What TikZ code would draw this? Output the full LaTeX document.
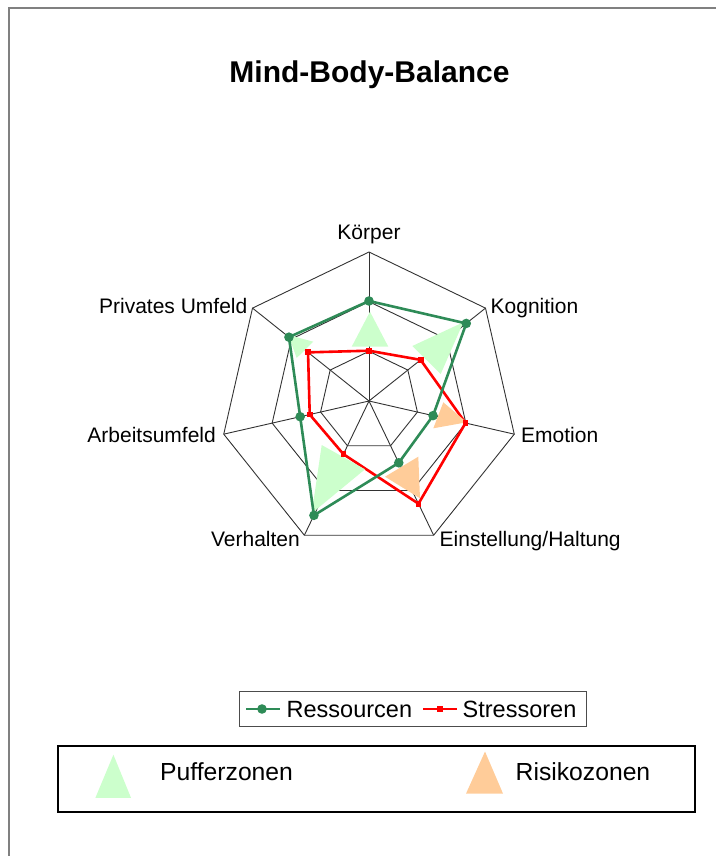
\documentclass[tikz,border=0pt]{standalone}
\usepackage{fontspec}
\setmainfont{Liberation Sans}
\usetikzlibrary{calc}
\definecolor{resgreen}{RGB}{46,139,87}
\definecolor{pufgreen}{RGB}{204,255,204}
\definecolor{risorange}{RGB}{255,204,153}
\definecolor{gridcol}{RGB}{50,50,50}
\definecolor{framecol}{RGB}{128,128,128}
\begin{document}
\begin{tikzpicture}[x=1pt,y=-1pt,
  gridline/.style={draw=gridcol,line width=0.9pt},
  resline/.style={draw=resgreen,line width=2.6pt,line join=round},
  strline/.style={draw=red,line width=2.6pt,line join=round},
  resmark/.style={fill=resgreen,draw=none},
  strmark/.style={fill=red,draw=none},
  puffer/.style={fill=pufgreen,draw=none},
  risiko/.style={fill=risorange,draw=none},
  axislabel/.style={inner sep=0pt,font=\fontsize{21}{25}\selectfont},
  legtext/.style={inner sep=0pt,font=\fontsize{23.5}{28}\selectfont},
  legtextb/.style={inner sep=0pt,font=\fontsize{24.7}{29}\selectfont}]
\useasboundingbox (0,0) rectangle (716,856);
% outer frame
\draw[framecol,line width=2pt] (9,856) -- (9,8) -- (716,8);
% title
\node[inner sep=0pt,font=\bfseries\fontsize{30}{36}\selectfont] (title) at (369.5,75) {Mind-Body-Balance};
% grid
\coordinate (C) at (369,401);
\foreach \r in {49.667,99.333,149}{
  \draw[gridline] ($(C)+(-90:\r)$)
    \foreach \a in {-38.571,12.857,64.286,115.714,167.143,218.571}{ -- ($(C)+(\a:\r)$) } -- cycle;
}
\foreach \i/\a in {1/-90,2/-38.571,3/12.857,4/64.286,5/115.714,6/167.143,7/218.571}{
  \coordinate (v\i) at ($(C)+(\a:149)$);
  \draw[gridline] (C) -- (v\i);
}
% data coordinates
\foreach \i/\a/\r in {1/-90/100,2/-38.571/124.4,3/12.857/65.7,4/64.286/68.6,5/115.714/126.9,6/167.143/70.6,7/218.571/102.4}{
  \coordinate (g\i) at ($(C)+(\a:\r)$);
}
\foreach \i/\a/\r in {1/-90/50.3,2/-38.571/66,3/12.857/99,4/64.286/114,5/115.714/59,6/167.143/60.8,7/218.571/78}{
  \coordinate (s\i) at ($(C)+(\a:\r)$);
}
% Stressoren line
\draw[strline] (s1) -- (s2) -- (s3) -- (s4) -- (s5) -- (s6) -- (s7) -- cycle;
% zones
\fill[puffer] (370,311.7) -- (351.7,346.7) -- (388.3,346.7) -- cycle;
\fill[puffer] (412.3,346) -- (463.3,322.3) -- (440.7,374) -- cycle;
\fill[puffer] (288.3,335) -- (313.3,341.7) -- (296.7,358) -- cycle;
\fill[puffer] (321.7,445) -- (365,469.3) -- (311.7,513.3) -- cycle;
\fill[risiko] (443.3,402.3) -- (466.7,422.3) -- (433.3,428.3) -- cycle;
\fill[risiko] (418.3,456.7) -- (385,476.7) -- (420,498.3) -- cycle;
% Ressourcen line
\draw[resline] (g1) -- (g2) -- (g3) -- (g4) -- (g5) -- (g6) -- (g7) -- cycle;
\foreach \i in {1,...,7}{
  \fill[resmark] (g\i) circle (4.8);
  \fill[strmark] ($(s\i)+(-2.9,-2.9)$) rectangle ($(s\i)+(2.9,2.9)$);
}
% axis labels
\node[axislabel,anchor=base] (lk) at (369,239) {Körper};
\node[axislabel,anchor=base west] (lkog) at (490.5,313.3) {Kognition};
\node[axislabel,anchor=base west] (lemo) at (521,442.7) {Emotion};
\node[axislabel,anchor=base west] (lein) at (439.5,546.7) {Einstellung/Haltung};
\node[axislabel,anchor=base east] (lver) at (300,546.7) {Verhalten};
\node[axislabel,anchor=base east] (larb) at (216,442.7) {Arbeitsumfeld};
\node[axislabel,anchor=base east] (lpri) at (247.5,313.3) {Privates Umfeld};
% legend 1
\draw[draw=black!70,line width=1pt] (239.3,691.7) rectangle (586,726);
\coordinate (la1) at (246,709);
\coordinate (la2) at (280,709);
\draw[resline,line width=2.2pt] (la1) -- (la2);
\fill[resmark] (262,709) circle (4.8);
\node[legtext,anchor=base west] (lres) at (286.5,717.3) {Ressourcen};
\coordinate (lb1) at (423,709);
\coordinate (lb2) at (457,709);
\draw[strline,line width=2.2pt] (lb1) -- (lb2);
\fill[strmark] (437.1,706.1) rectangle (442.9,711.9);
\node[legtext,anchor=base west] (lstr) at (462.5,717.3) {Stressoren};
% legend 2
\draw[black,line width=1.8pt] (58,746) rectangle (695,812);
\fill[puffer] (113.4,754.7) -- (95.4,797.8) -- (131,797.8) -- cycle;
\node[legtextb,anchor=base west] (lpuf) at (160,780.5) {Pufferzonen};
\fill[risiko] (485,751.5) -- (466,793.6) -- (503,793.6) -- cycle;
\node[legtextb,anchor=base west] (lris) at (515.5,780.5) {Risikozonen};
\end{tikzpicture}
\end{document}
